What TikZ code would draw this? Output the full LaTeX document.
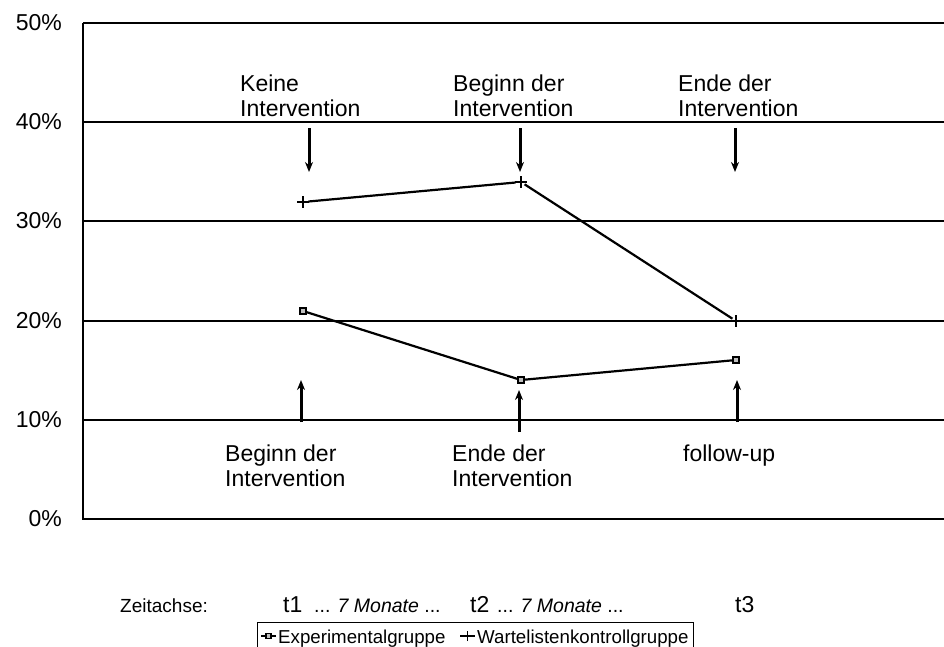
\documentclass[tikz,border=0pt]{standalone}
\usepackage{fontspec}
\setmainfont{Liberation Sans}
\usetikzlibrary{arrows.meta, positioning, shapes.misc}

\begin{document}
\begin{tikzpicture}[x=1pt, y=-1pt, font=\fontsize{23}{25}\selectfont,
  grid/.style={line width=1.6pt},
  curve/.style={line width=2.2pt},
  sq/.style={rectangle, draw, line width=1.4pt, fill=gray!50, inner sep=0pt, minimum size=6pt},
  pl/.style={cross out, draw, rotate=45, line width=1.3pt, inner sep=0pt, minimum size=7pt},
  txt/.style={align=left, anchor=north west, inner sep=0pt},
  ylab/.style={anchor=east, inner sep=0pt},
  small/.style={anchor=base west, inner sep=0pt, font=\fontsize{19}{22}\selectfont},
  marker/.style={line width=3pt, arrows={-Stealth[length=10pt, width=8pt]}}]
  \useasboundingbox (0,0) rectangle (944,646);

  % grid and axis
  \foreach \yy in {23,122,221,321,420} \draw[grid] (83,\yy) -- (944,\yy);
  \draw[grid] (83,23) -- (83,519) -- (944,519);
  \foreach \p/\yy in {0/519, 10/420, 20/321, 30/221, 40/122, 50/23}
    \node[ylab] (y\p) at (62,\yy) {\p\%};

  % labels above and below
  \node[txt] (keine) at (240,75) {Keine\\Intervention};
  \node[txt] (beginn) at (453,75) {Beginn der\\Intervention};
  \node[txt] (ende) at (678,75) {Ende der\\Intervention};
  \node[txt] (beginn2) at (225,445) {Beginn der\\Intervention};
  \node[txt] (ende2) at (452,445) {Ende der\\Intervention};
  \node[txt] (follow) at (683,445) {follow-up};

  % arrows
  \foreach \n/\x in {1/309, 2/520, 3/735} {
    \coordinate (down\n a) at (\x,128);
    \coordinate (down\n b) at (\x,172);
    \draw[marker] (down\n a) -- (down\n b);
  }
  \foreach \n/\x/\ya in {1/301/422, 2/519/432, 3/737/422} {
    \coordinate (up\n a) at (\x,\ya);
    \coordinate (up\n b) at (\x,\ya-42);
    \draw[marker] (up\n a) -- (up\n b);
  }

  % data
  \node[pl] (W1) at (303,202) {};
  \node[pl] (W2) at (521,182) {};
  \node[pl] (W3) at (736,321) {};
  \node[sq] (E1) at (303,311) {};
  \node[sq] (E2) at (521,380) {};
  \node[sq] (E3) at (736,360) {};
  \draw[curve] (W1) -- (W2) -- (W3);
  \draw[curve] (E1) -- (E2) -- (E3);

  % time axis
  \node[small] (zeit) at (120,612) {Zeitachse:};
  \node[small, font=\fontsize{23}{25}\selectfont] (t1) at (283,612) {t1};
  \node[small, font=\fontsize{19.5}{22}\selectfont] (m1) at (314,612) {... \textit{7 Monate} ...};
  \node[small, font=\fontsize{23}{25}\selectfont] (t2) at (470,612) {t2};
  \node[small, font=\fontsize{19.5}{22}\selectfont] (m2) at (497,612) {... \textit{7 Monate} ...};
  \node[small, font=\fontsize{23}{25}\selectfont] (t3) at (735,612) {t3};

  % legend
  \node[draw, line width=1pt, minimum width=436pt, minimum height=30pt, anchor=north west] (legend) at (257,622) {};
  \coordinate (le1a) at (261,636);
  \coordinate (le1b) at (276,636);
  \draw[line width=1.4pt] (le1a) -- (le1b);
  \node[sq, minimum size=5pt] (le1) at (268.5,636) {};
  \node[small, font=\fontsize{18.7}{22}\selectfont] (exp) at (278,643) {Experimentalgruppe};
  \coordinate (le2a) at (460,636);
  \coordinate (le2b) at (475,636);
  \draw[line width=1.4pt] (le2a) -- (le2b);
  \node[pl, minimum size=6pt] (le2) at (467.5,636) {};
  \node[small, font=\fontsize{18.7}{22}\selectfont] (wl) at (477,643) {Wartelistenkontrollgruppe};
\end{tikzpicture}
\end{document}
